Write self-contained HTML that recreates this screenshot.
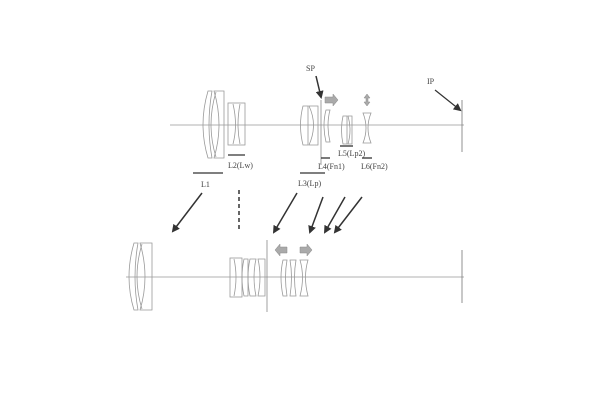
<!DOCTYPE html>
<html><head><style>body{margin:0;background:#fff}svg{display:block}text{font-family:"Liberation Serif",serif;font-size:8px;fill:#444}</style></head>
<body><svg width="600" height="400" viewBox="0 0 600 400">
<defs><marker id="a" markerWidth="8" markerHeight="8" refX="6" refY="4" orient="auto" markerUnits="userSpaceOnUse"><path d="M0,0 L8,4 L0,8 z" fill="#333"/></marker></defs>
<g fill="none" stroke="#999" stroke-width="0.8">
<!-- top -->
<line x1="170" y1="125" x2="464" y2="125"/>
<line x1="462" y1="100" x2="462" y2="152" stroke="#777"/>
<path d="M208,91 Q198,125 208,158 L212,158 Q206,125 212,91 Z"/>
<path d="M214,91 Q224,125 214,158 L224,158 L224,91 Z"/>
<path d="M216,92 Q206,125 216,157"/>
<rect x="228" y="103" width="17" height="42"/>
<path d="M233,104 Q238,125 233,144 M240,104 Q236,125 240,144"/>
<path d="M303,106 Q298,125 303,145 L308,145 L308,106 Z"/>
<path d="M309,106 Q318,125 309,145 L318,145 L318,106 Z"/>
<line x1="321" y1="100" x2="321" y2="165" stroke="#888"/>
<path d="M326,110 Q322,125 326,142 L330,142 Q326,125 330,110 Z"/>
<path d="M343,116 Q340,130 343,144 L347,144 L347,116 Z M348,116 Q352,130 348,144 L352,144 L352,116 Z"/>
<path d="M363,113 Q369,128 363,143 L371,143 Q365,128 371,113 Z"/>
<!-- bottom -->
<line x1="126" y1="277" x2="464" y2="277"/>
<line x1="462" y1="250" x2="462" y2="303" stroke="#777"/>
<path d="M134,243 Q124,277 134,310 L138,310 Q132,277 138,243 Z"/>
<path d="M140,243 Q150,277 140,310 L152,310 L152,243 Z"/>
<path d="M142,244 Q132,277 142,309"/>
<rect x="230" y="258" width="12" height="39"/>
<path d="M234,259 Q238,277 234,296 M244,259 Q240,277 244,296 L248,296 L248,259 Z"/>
<path d="M250,259 Q246,277 250,296 L256,296 Q252,277 256,259 Z"/>
<path d="M258,259 Q262,277 258,296 L265,296 L265,259 Z"/>
<line x1="267" y1="240" x2="267" y2="312" stroke="#888"/>
<path d="M283,260 Q279,277 283,296 L287,296 Q284,277 287,260 Z"/>
<path d="M290,260 Q293,277 290,296 L296,296 Q293,277 296,260 Z"/>
<path d="M300,260 Q305,277 300,296 L308,296 Q303,277 308,260 Z"/>
</g>
<g fill="#aaa" stroke="#888" stroke-width="0.5">
<path d="M325,97 L333,97 L333,94 L338,100 L333,106 L333,103 L325,103 Z"/>
<path d="M367,94 L370,98 L368,98 L368,102 L370,102 L367,106 L364,102 L366,102 L366,98 L364,98 Z"/>
<path d="M287,247 L280,247 L280,244 L275,250 L280,256 L280,253 L287,253 Z"/>
<path d="M300,247 L307,247 L307,244 L312,250 L307,256 L307,253 L300,253 Z"/>
</g>
<g stroke="#333" stroke-width="1.5">
<line x1="316" y1="76" x2="321" y2="97" marker-end="url(#a)"/>
<line x1="435" y1="90" x2="460" y2="110" stroke-width="1.2" marker-end="url(#a)"/>
<line x1="202" y1="193" x2="173" y2="231" marker-end="url(#a)"/>
<line x1="239" y1="190" x2="239" y2="232" stroke-dasharray="4,3"/>
<line x1="297" y1="193" x2="274" y2="232" marker-end="url(#a)"/>
<line x1="323" y1="197" x2="310" y2="232" marker-end="url(#a)"/>
<line x1="345" y1="197" x2="325" y2="232" marker-end="url(#a)"/>
<line x1="362" y1="197" x2="335" y2="232" marker-end="url(#a)"/>
<line x1="228" y1="155" x2="245" y2="155" stroke-width="1.3"/>
<line x1="193" y1="173" x2="223" y2="173" stroke-width="1.3"/>
<line x1="300" y1="173" x2="325" y2="173" stroke-width="1.3"/>
<line x1="321" y1="158" x2="330" y2="158" stroke-width="1.3"/>
<line x1="340" y1="146" x2="353" y2="146" stroke-width="1.3"/>
<line x1="362" y1="158" x2="372" y2="158" stroke-width="1.3"/>
</g>
<text x="306" y="71">SP</text>
<text x="427" y="84">IP</text>
<text x="228" y="168">L2(Lw)</text>
<text x="201" y="187">L1</text>
<text x="298" y="186">L3(Lp)</text>
<text x="318" y="169">L4(Fn1)</text>
<text x="338" y="156">L5(Lp2)</text>
<text x="361" y="169">L6(Fn2)</text>
</svg></body></html>
